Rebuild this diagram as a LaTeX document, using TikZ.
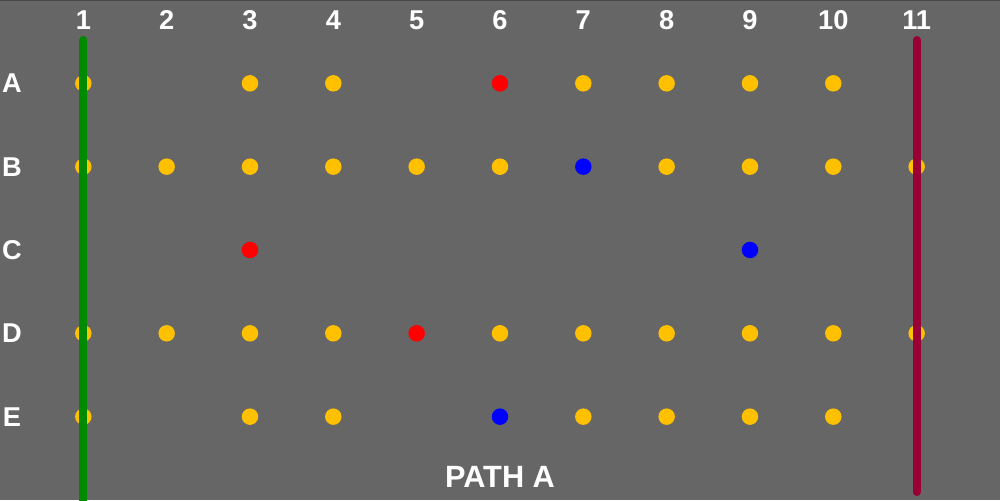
\documentclass[tikz,border=0pt]{standalone}
\usepackage{fontspec}
\setmainfont{Liberation Sans}
\usetikzlibrary{positioning}
\definecolor{bgGrey}{HTML}{666666}
\definecolor{edgeGrey}{HTML}{484848}
\definecolor{seatAmber}{HTML}{FFC000}
\definecolor{seatRed}{HTML}{FF0000}
\definecolor{seatBlue}{HTML}{0000FF}
\definecolor{railGreen}{HTML}{008A00}
\definecolor{railRed}{HTML}{990033}

\begin{document}
\begin{tikzpicture}[
  x=0.02cm, y=-0.02cm,
  lbl/.style={text=white, inner sep=0pt, font=\bfseries\fontsize{15.5}{16}\selectfont},
  ball/.style={circle, fill=#1, inner sep=0pt, minimum size=0.33cm},
  rail/.style={draw=#1, line width=0.16cm, line cap=round}
]
\useasboundingbox (0,0) rectangle (1000,500);
\fill[bgGrey] (0,0) rectangle (1000,500);
\draw[edgeGrey, line width=0.5pt] (0,0.6) -- (1000,0.6);
% column and row labels
\foreach \i in {1,...,11}
  \node[lbl] (col\i) at (83.33*\i, 20) {\i};
\foreach \r [count=\j] in {A,B,C,D,E}
  \node[lbl] (row\r) at (12, 83.33*\j) {\r};
% amber seats
\foreach \r/\j/\cols in {A/1/{1,3,4,7,8,9,10}, B/2/{1,2,3,4,5,6,8,9,10,11},
                         D/4/{1,2,3,4,6,7,8,9,10,11}, E/5/{1,3,4,7,8,9,10}}
  \foreach \i in \cols
    \node[ball=seatAmber] (s\r\i) at (83.33*\i, 83.33*\j) {};
% red and blue seats
\foreach \r/\j/\i/\c in {A/1/6/seatRed, B/2/7/seatBlue, C/3/3/seatRed,
                         C/3/9/seatBlue, D/4/5/seatRed, E/5/6/seatBlue}
  \node[ball=\c] (s\r\i) at (83.33*\i, 83.33*\j) {};
% the two rails
\coordinate (gTop) at (83.33, 40);
\coordinate (gBot) at (83.33, 505);
\coordinate (rTop) at (916.67, 40);
\coordinate (rBot) at (916.67, 492);
\draw[rail=railGreen] (gTop) -- (gBot);
\draw[rail=railRed] (rTop) -- (rBot);
\node[lbl, font=\bfseries\fontsize{17.5}{18}\selectfont] (title) at (500, 477) {PATH A};
\end{tikzpicture}
\end{document}
